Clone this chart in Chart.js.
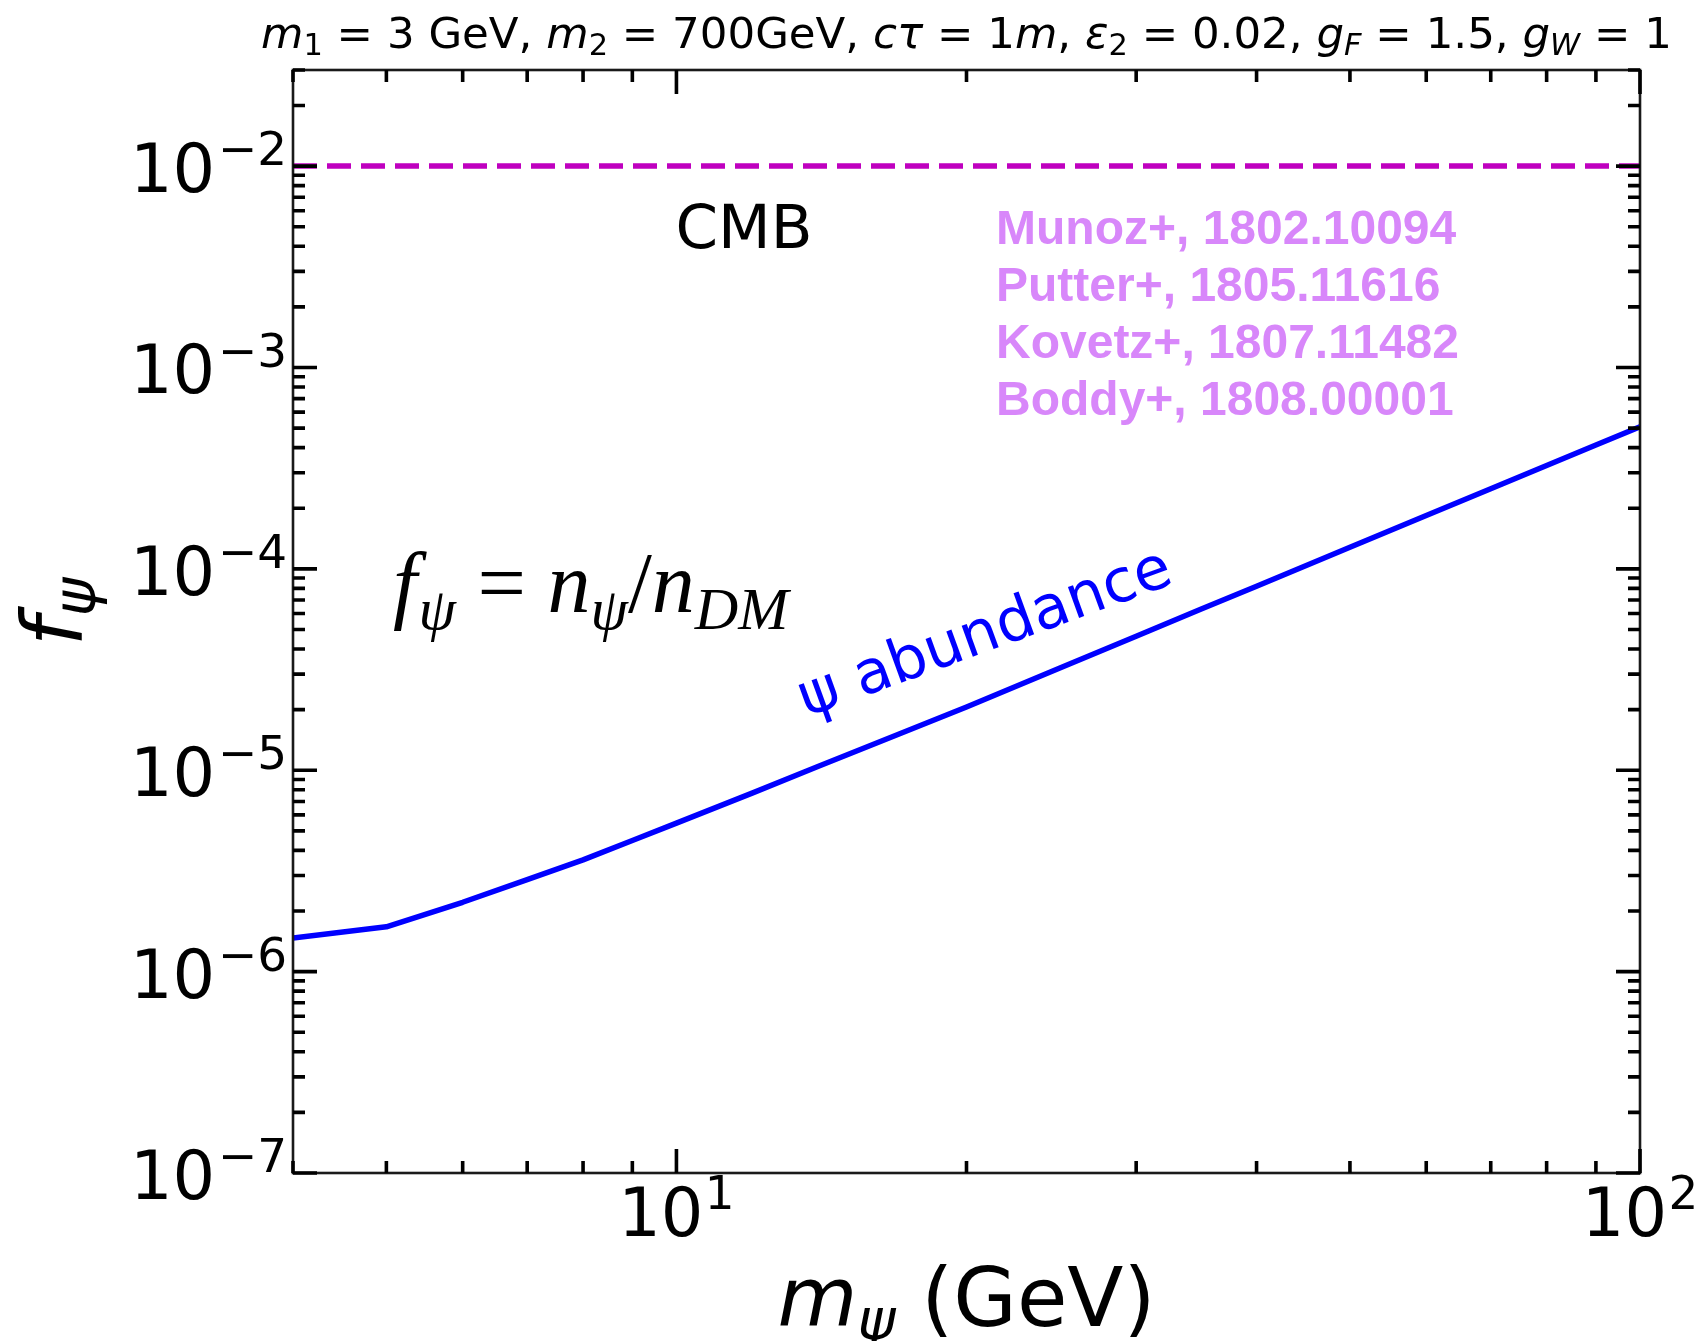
<!DOCTYPE html>
<html><head><meta charset="utf-8">
<script src="https://cdn.jsdelivr.net/npm/chart.js@4.4.1/dist/chart.umd.min.js"></script>
<style>html,body{margin:0;padding:0;background:#fff;}#wrap{width:1698px;height:1341px;position:relative;}</style>
</head><body><div id="wrap"><canvas id="c"></canvas></div>
<script>
// ---- data ----
const massGeV = [4, 5, 6, 7, 8, 9, 10, 12, 14, 17, 20, 25, 30, 35, 40, 50, 60, 70, 80, 90, 100];
const fPsi = [1.47e-6, 1.67e-6, 2.21e-6, 2.86e-6, 3.59e-6, 4.48e-6, 5.46e-6, 7.72e-6, 1.04e-5, 1.51e-5,
              2.06e-5, 3.22e-5, 4.63e-5, 6.3e-5, 8.2e-5, 1.28e-4, 1.84e-4, 2.5e-4, 3.26e-4, 4.12e-4, 5.08e-4];
const cmbLimit = 0.01;
const xRange = [4, 100];
const yRange = [1e-7, 0.03];
const xMajorTicks = [10, 100];
const xMajorExp = ['1', '2'];
const yMajorTicks = [1e-7, 1e-6, 1e-5, 1e-4, 1e-3, 1e-2];
const yMajorExp = ['\u22127', '\u22126', '\u22125', '\u22124', '\u22123', '\u22122'];
const refLines = ['Munoz+, 1802.10094', 'Putter+, 1805.11616', 'Kovetz+, 1807.11482', 'Boddy+, 1808.00001'];
const curveLabel = '\u03c8 abundance';
const cmbLabel = 'CMB';

// ---- rich text helper ----
function fontStr(sz, it, fam, bold){ return (it?'italic ':'')+(bold?'bold ':'')+sz.toFixed(2)+'px '+fam; }
function layoutRich(ctx, segs, F, fam, subDrop){
  let w = 0; const items = [];
  for (const s of segs){
    const sz = (s.sub||s.sup) ? F*0.7 : F;
    const f = fontStr(sz, s.it, s.fam||fam, s.bold);
    ctx.font = f;
    const tw = ctx.measureText(s.t).width;
    const k = (s.kern||0)*F;
    const dy = s.sub ? F*subDrop : (s.sup ? -F*0.40 : 0);
    items.push({t:s.t, font:f, x:w+k, dy});
    w += k + tw;
  }
  return {items, w};
}
function drawRich(ctx, segs, x, y, F, fam, align, color, subDrop){
  const L = layoutRich(ctx, segs, F, fam, subDrop===undefined?0.16:subDrop);
  const x0 = align==='center' ? x-L.w/2 : (align==='right' ? x-L.w : x);
  ctx.fillStyle = color; ctx.textAlign = 'left'; ctx.textBaseline = 'alphabetic';
  for (const it of L.items){ ctx.font = it.font; ctx.fillText(it.t, x0+it.x, y+it.dy); }
}

const SANS = '"DejaVu Sans"';
function minorVals(lo, hi){
  const out = [];
  for (let e = Math.floor(Math.log10(lo)); e <= Math.ceil(Math.log10(hi)); e++){
    for (let m = 2; m <= 9; m++){ const v = m*Math.pow(10,e); if (v >= lo*0.9999 && v <= hi*1.0001) out.push(v); }
  }
  return out;
}

const decor = {
  id: 'decor',
  afterDatasetsDraw(chart){
    const ctx = chart.ctx, a = chart.chartArea;
    const xs = chart.scales.x, ys = chart.scales.y;
    ctx.save();
    // frame
    ctx.strokeStyle = '#1a1a1a'; ctx.lineWidth = 2.6;
    ctx.strokeRect(a.left, a.top, a.right-a.left, a.bottom-a.top);
    // ticks
    ctx.lineWidth = 3.6; ctx.strokeStyle = '#000';
    const MAJ = 24, MIN = 12;
    function vt(px, len){
      ctx.beginPath(); ctx.moveTo(px, a.bottom); ctx.lineTo(px, a.bottom-len);
      ctx.moveTo(px, a.top); ctx.lineTo(px, a.top+len); ctx.stroke();
    }
    function ht(py, len){
      ctx.beginPath(); ctx.moveTo(a.left, py); ctx.lineTo(a.left+len, py);
      ctx.moveTo(a.right, py); ctx.lineTo(a.right-len, py); ctx.stroke();
    }
    minorVals(xRange[0], xRange[1]).forEach(v=>{ if (xMajorTicks.indexOf(v)<0) vt(xs.getPixelForValue(v), MIN); });
    xMajorTicks.forEach(v=>vt(xs.getPixelForValue(v), MAJ));
    minorVals(yRange[0], yRange[1]).forEach(v=>ht(ys.getPixelForValue(v), MIN));
    yMajorTicks.forEach(v=>ht(ys.getPixelForValue(v), MAJ));

    // tick labels
    yMajorTicks.forEach((v,i)=>{
      const py = ys.getPixelForValue(v);
      drawRich(ctx, [{t:'10'},{t:yMajorExp[i],sup:1,kern:0.04}], a.left-6, py+26, 67, SANS, 'right', '#000');
    });
    xMajorTicks.forEach((v,i)=>{
      const px = xs.getPixelForValue(v);
      drawRich(ctx, [{t:'10'},{t:xMajorExp[i],sup:1,kern:0.02}], px, a.bottom+63, 67, SANS, 'center', '#000');
    });

    // title
    drawRich(ctx, [
      {t:'m',it:1},{t:'1',sub:1},{t:' = 3 GeV, '},{t:'m',it:1},{t:'2',sub:1},{t:' = 700GeV, '},
      {t:'c\u03c4',it:1},{t:' = 1'},{t:'m',it:1},{t:', '},{t:'\u03b5',it:1},{t:'2',sub:1},{t:' = 0.02, '},
      {t:'g',it:1},{t:'F',it:1,sub:1},{t:' = 1.5, '},{t:'g',it:1},{t:'W',it:1,sub:1},{t:' = 1'}
    ], (a.left+a.right)/2, 48, 43.5, SANS, 'center', '#000');

    // axis labels
    drawRich(ctx, [{t:'m',it:1},{t:'\u03c8',it:1,sub:1},{t:' (GeV)'}], (a.left+a.right)/2, 1326, 82, SANS, 'center', '#000');
    ctx.save(); ctx.translate(82, 612); ctx.rotate(-Math.PI/2);
    drawRich(ctx, [{t:'f',it:1},{t:'\u03c8',it:1,sub:1}], 0, 0, 84, SANS, 'center', '#000');
    ctx.restore();

    // annotations
    ctx.font = '61px '+SANS; ctx.fillStyle = '#000'; ctx.textAlign='center'; ctx.textBaseline='alphabetic';
    ctx.fillText(cmbLabel, 744, 248);
    ctx.font = 'bold 48px "Liberation Sans"'; ctx.fillStyle = '#d887fa'; ctx.textAlign='left';
    const refBase = [244, 301, 358, 415];
    refLines.forEach((s,i)=>ctx.fillText(s, 996, refBase[i]));

    const SERIF = '"Liberation Serif"';
    drawRich(ctx, [{t:'f',it:1},{t:'\u03c8',it:1,sub:1,kern:0.02},{t:' = '},{t:'n',it:1},{t:'\u03c8',it:1,sub:1},
                   {t:'/'},{t:'n',it:1},{t:'DM',it:1,sub:1}], 393, 612, 86, SERIF, 'left', '#000', 0.2);

    ctx.save(); ctx.translate(991, 650); ctx.rotate(-20*Math.PI/180);
    ctx.font = '60px '+SANS; ctx.fillStyle = '#0000ff'; ctx.textAlign='center'; ctx.textBaseline='alphabetic';
    ctx.fillText(curveLabel, 0, 0);
    ctx.restore();
    ctx.restore();
  }
};

const curvePts = massGeV.map((m,i)=>({x:m, y:fPsi[i]}));
const cmbPts = [{x:xRange[0], y:cmbLimit}, {x:xRange[1], y:cmbLimit}];

new Chart(document.getElementById('c'), {
  type: 'line',
  data: { datasets: [
    { label:'CMB', data:cmbPts, borderColor:'#bf00bf', borderWidth:5.5, borderDash:[24,10], pointRadius:0, tension:0, fill:false },
    { label:'psi', data:curvePts, borderColor:'#0000ff', borderWidth:5.5, pointRadius:0, tension:0, fill:false, borderJoinStyle:'round', borderCapStyle:'butt' }
  ]},
  options: {
    responsive: true, maintainAspectRatio: false, animation: false, devicePixelRatio: 1,
    layout: { padding: { left: 293, right: 58, top: 70, bottom: 168 } },
    plugins: { legend: {display:false}, tooltip: {enabled:false}, title:{display:false} },
    scales: {
      x: { type:'logarithmic', min:xRange[0], max:xRange[1], display:false },
      y: { type:'logarithmic', min:yRange[0], max:yRange[1], display:false }
    },
    events: []
  },
  plugins: [decor]
});
</script></body></html>
